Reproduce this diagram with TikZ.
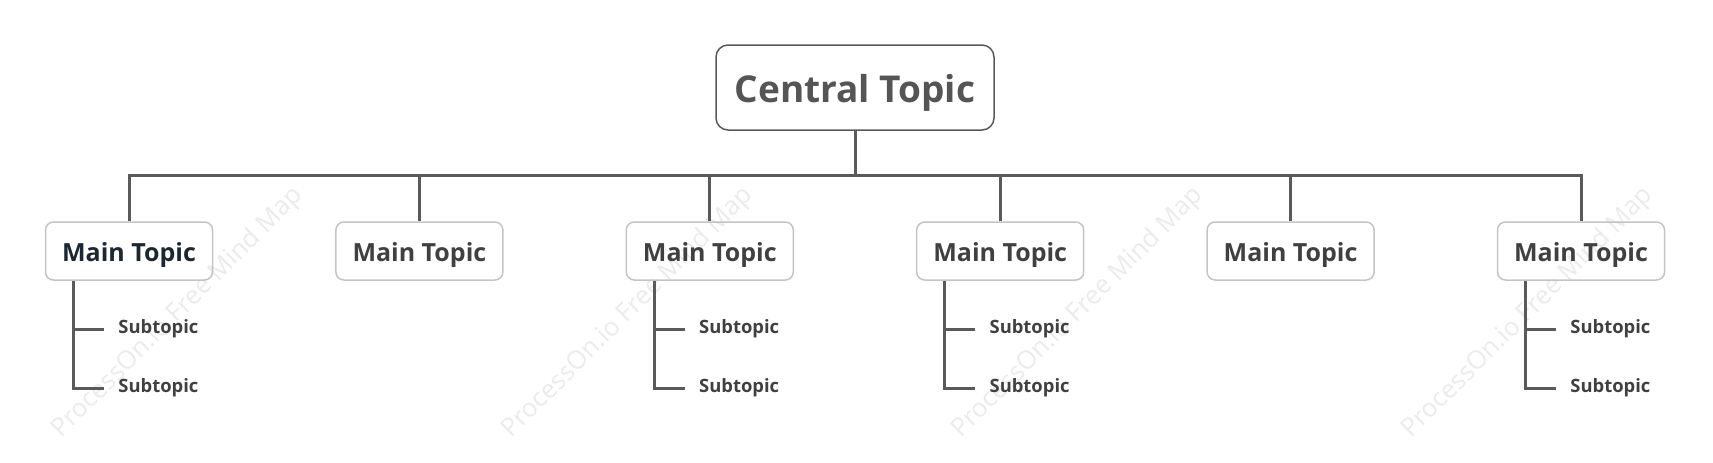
\documentclass[tikz,border=0pt]{standalone}
\usepackage{fontspec}
\setmainfont{Open Sans}
\usepackage{xcolor}
\usepackage{tikz}
\definecolor{linegray}{HTML}{5A5A5A}
\definecolor{boxgray}{HTML}{C4C4C4}
\definecolor{textgray}{HTML}{404040}
\definecolor{titlegray}{HTML}{555555}
\definecolor{textdark}{HTML}{1D2731}
\definecolor{markgray}{HTML}{EBEBEB}

\begin{document}
\begin{tikzpicture}[x=0.5pt,y=-0.5pt,
  central/.style={draw=linegray,line width=0.75pt,rounded corners=6pt,minimum width=139pt,minimum height=42.5pt,text height=15pt,text depth=0pt,font=\bfseries\fontsize{18.5}{20}\selectfont,text=titlegray},
  maintopic/.style={draw=boxgray,line width=0.75pt,rounded corners=4pt,minimum width=83.5pt,minimum height=29pt,text height=10.5pt,text depth=0pt,font=\bfseries\fontsize{12.5}{14}\selectfont,text=textgray},
  subtopic/.style={inner xsep=7pt,inner ysep=2pt,anchor=west,font=\bfseries\fontsize{9.2}{11}\selectfont,text=textgray},
  branch/.style={draw=linegray,line width=1.5pt},
  watermark/.style={rotate=45,font=\fontsize{12.8}{14}\selectfont,text=markgray}]

  \useasboundingbox (0,0) rectangle (1713,462);
  \foreach \c in {0,...,3}{
    \pgfmathsetmacro{\x}{178+\c*450}
    \node[watermark] (wm\c) at (\x,313) {ProcessOn.io Free Mind Map};
  }
  \node[central] (central) at (855,87.5) {Central Topic};
  \coordinate (bar) at (855,175);
  \foreach \i/\hassub in {0/1,1/0,2/1,3/1,4/0,5/1}{
    \pgfmathsetmacro{\x}{129+\i*290.4}
    \ifnum\i=0
      \node[maintopic,text=textdark] (m\i) at (\x,251) {Main Topic};
    \else
      \node[maintopic] (m\i) at (\x,251) {Main Topic};
    \fi
    \draw[branch] (central.south) -- (bar) -| (m\i.north);
    \ifnum\hassub=1
      \node[subtopic] (sa\i) at (\x-25,329) {Subtopic};
      \node[subtopic] (sb\i) at (\x-25,388) {Subtopic};
      \coordinate (v\i) at ([xshift=14.5pt]m\i.south west);
      \draw[branch] (v\i) |- (sa\i.west);
      \draw[branch] (v\i) |- (sb\i.west);
    \fi
  }
\end{tikzpicture}
\end{document}
